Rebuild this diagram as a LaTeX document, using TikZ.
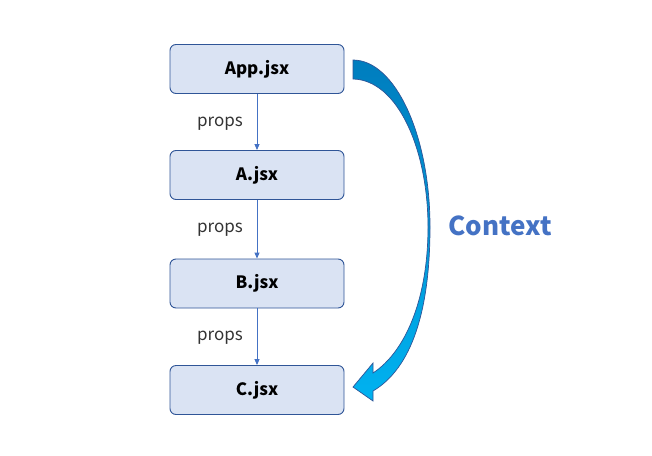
\documentclass[tikz,border=0pt]{standalone}
\usepackage{fontspec}
\setmainfont{Noto Sans CJK JP}
\usetikzlibrary{arrows.meta}
\definecolor{boxfill}{RGB}{218,227,243}
\definecolor{boxline}{RGB}{47,85,151}
\definecolor{arrowblue}{RGB}{68,114,196}
\definecolor{ctxtop}{RGB}{0,125,190}
\definecolor{ctxbot}{RGB}{0,178,240}
\tikzset{
  filebox/.style={draw=boxline, fill=boxfill, line width=0.9pt, rounded corners=6pt,
    minimum width=174pt, minimum height=49pt, inner sep=0pt,
    font=\fontsize{17}{20}\selectfont\bfseries},
  propsarrow/.style={draw=arrowblue, line width=0.9pt, -{Triangle[length=6pt,width=5pt]}},
  propslabel/.style={font=\fontsize{17}{20}\selectfont, text=black!80, inner sep=0pt}
}
\begin{document}
\begin{tikzpicture}[x=1pt,y=-1pt]
\useasboundingbox (0,0) rectangle (652,455);
\node[filebox] (app) at (257,69) {App.jsx};
\node[filebox] (a) at (257,175) {A.jsx};
\node[filebox] (b) at (257,283.5) {B.jsx};
\node[filebox] (c) at (257,390) {C.jsx};
\draw[propsarrow] (app) -- (a);
\draw[propsarrow] (a) -- (b);
\draw[propsarrow] (b) -- (c);
\node[propslabel] (p1) at (220,124) {props};
\node[propslabel] (p2) at (220,230) {props};
\node[propslabel] (p3) at (220,338) {props};
\path[draw=boxline, line width=0.7pt, top color=ctxtop, bottom color=ctxbot]
  (353,60) .. controls (395,60) and (430,135) .. (430,227)
  .. controls (430,310) and (412,368) .. (373,391)
  -- (373,401) -- (353,387) -- (373,363) -- (373,373)
  .. controls (405,352) and (428,300) .. (428,227)
  .. controls (428,150) and (398,80) .. (353,79) -- cycle;
\node[font=\fontsize{26}{30}\selectfont\bfseries, text=arrowblue, inner sep=0pt] (ctx) at (500,226) {Context};
\end{tikzpicture}
\end{document}
